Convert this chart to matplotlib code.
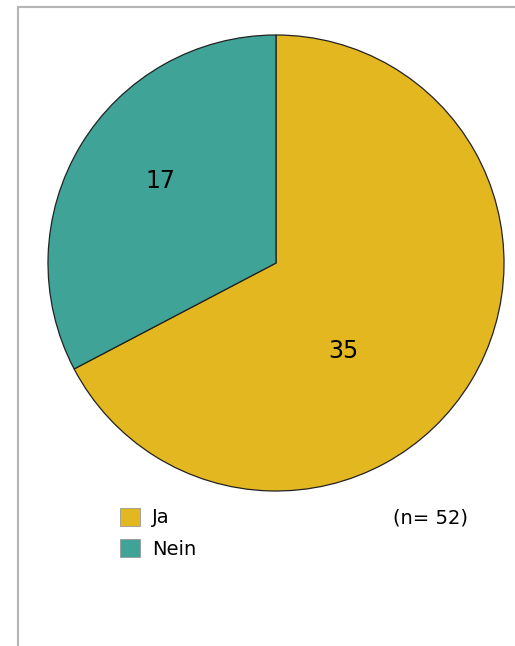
import matplotlib.pyplot as plt
from matplotlib.patches import Patch
from matplotlib.lines import Line2D

labels = ['Ja', 'Nein']
values = [35, 17]
colors = ['#E2B720', '#3FA397']
n_text = '(n= 52)'

W, H = 515, 646
fig = plt.figure(figsize=(W / 100, H / 100), dpi=100)

# Rahmen oben und links
fig.add_artist(Line2D([18 / W, 1], [1 - 7 / H, 1 - 7 / H], color='#b5b5b5', lw=1.5))
fig.add_artist(Line2D([18 / W, 18 / W], [0, 1 - 7 / H], color='#b5b5b5', lw=1.5))

cx, cy, r = 276, 263, 228
ax = fig.add_axes([(cx - r) / W, 1 - (cy + r) / H, 2 * r / W, 2 * r / H])
wedges, texts = ax.pie(values, colors=colors, startangle=90, counterclock=False,
                       radius=1, labels=[str(v) for v in values], labeldistance=0.55,
                       wedgeprops=dict(edgecolor='#222222', linewidth=0.9),
                       textprops=dict(fontsize=17, color='black', ha='center', va='center'))
# Beschriftungen wie im Original verschoben
texts[0].set_position((0.294, -0.386))
texts[1].set_position((-0.509, 0.360))
ax.set_xlim(-1.0, 1.0)
ax.set_ylim(-1.0, 1.0)
ax.set_aspect('equal')

handles = [Patch(facecolor=c, edgecolor='#999999', linewidth=0.6) for c in colors]
fig.legend(handles, labels, loc='upper left', bbox_to_anchor=(112 / W, 1 - 500 / H),
           frameon=False, fontsize=14, handlelength=1.05, handleheight=1.05,
           handletextpad=0.6, labelspacing=0.6, borderaxespad=0)

fig.text(468 / W, 1 - 518 / H, n_text, fontsize=14, ha='right', va='center')

fig.savefig('out.png', dpi=100)
